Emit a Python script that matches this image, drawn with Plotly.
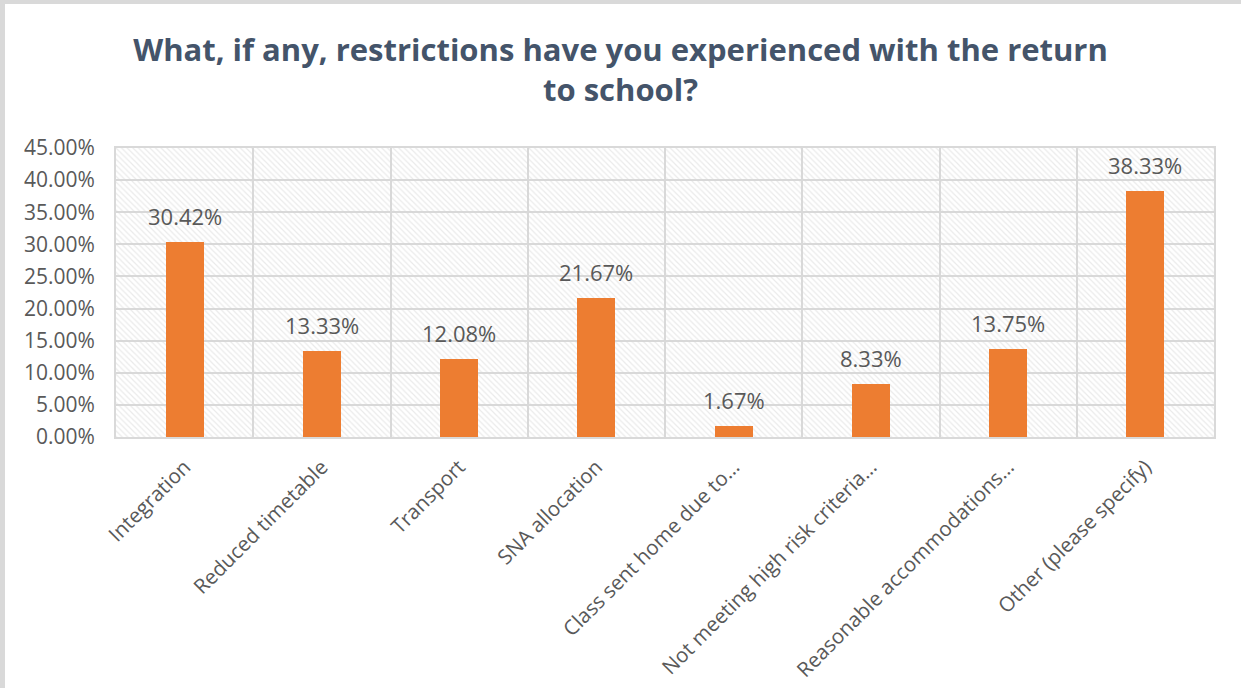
import plotly.graph_objects as go

# Survey results
categories = [
    "Integration",
    "Reduced timetable",
    "Transport",
    "SNA allocation",
    "Class sent home due to…",
    "Not meeting high risk criteria…",
    "Reasonable accommodations…",
    "Other (please specify)",
]
shares = [0.3042, 0.1333, 0.1208, 0.2167, 0.0167, 0.0833, 0.1375, 0.3833]
y_max = 0.45

W, H = 1241, 688
M_L, M_R, M_T, M_B = 116, 27, 148, 251
PW, PH = W - M_L - M_R, H - M_T - M_B

GRID = "#d9d9d9"
TXT = "#595959"
FONT = "Open Sans"
n = len(categories)

fig = go.Figure()

# Hatched plot-area fill: one full-width bar on the base (linear) axis,
# so the category bars on the overlaying axis sit on top of it
fig.add_trace(go.Bar(
    x=[n / 2], y=[y_max], width=[n],
    xaxis="x", marker=dict(
        color="rgba(0,0,0,0)", line=dict(width=0),
        pattern=dict(shape="\\", fgcolor="#d6d6d6", size=4, solidity=0.3,
                     fillmode="overlay"),
    ),
    hoverinfo="skip", showlegend=False,
))

fig.add_trace(go.Bar(
    x=categories, y=shares, width=0.277, xaxis="x2",
    marker=dict(color="#ED7D31", line=dict(width=0)),
    showlegend=False,
))

for c, v in zip(categories, shares):
    fig.add_annotation(
        x=c, y=v, xref="x2", yref="y", text=f"{v * 100:.2f}%", showarrow=False,
        yanchor="bottom", yshift=9,
        font=dict(family=FONT, size=22, color=TXT),
    )

# Light frame along the top and left edges of the chart
px_x = 1 / PW
px_y = 1 / PH
fig.add_shape(type="rect", xref="paper", yref="paper",
              x0=-M_L * px_x, x1=(W - M_L) * px_x,
              y0=1 + (M_T - 4) * px_y, y1=1 + M_T * px_y,
              fillcolor="#d9d9d9", line=dict(width=0), layer="above")
fig.add_shape(type="rect", xref="paper", yref="paper",
              x0=-M_L * px_x, x1=(-M_L + 5) * px_x,
              y0=-M_B * px_y, y1=1 + M_T * px_y,
              fillcolor="#d9d9d9", line=dict(width=0), layer="above")

fig.update_layout(
    width=W, height=H,
    margin=dict(l=M_L, r=M_R, t=M_T, b=M_B, autoexpand=False),
    paper_bgcolor="white", plot_bgcolor="white",
    barmode="overlay", bargap=0,
    title=dict(
        text="What, if any, restrictions have you experienced with the return<br>to school?",
        x=0.5, xref="container", xanchor="center",
        y=1 - 61 / H, yref="container", yanchor="middle", automargin=False,
        font=dict(family=FONT, size=31, color="#44546A", weight="bold"),
    ),
    xaxis=dict(
        range=[0, n], dtick=1, automargin=False,
        showgrid=True, gridcolor=GRID, gridwidth=2,
        showticklabels=False, zeroline=False, ticks="",
        showline=True, mirror=True, linecolor=GRID, linewidth=2,
    ),
    xaxis2=dict(
        overlaying="x", side="bottom", type="category", tickangle=-45,
        automargin=False,
        showgrid=False, showline=False, ticks="", ticklabelstandoff=13,
        tickfont=dict(family=FONT, size=20.5, color=TXT),
        range=[-0.5, n - 0.5],
    ),
    yaxis=dict(
        range=[0, y_max], dtick=0.05, tickformat=".2%", automargin=False,
        showgrid=True, gridcolor=GRID, gridwidth=2, zeroline=False,
        showline=True, mirror=True, linecolor=GRID, linewidth=2,
        ticks="", ticklabelstandoff=15,
        tickfont=dict(family=FONT, size=21, color=TXT),
    ),
)

fig.write_html("out.html")
